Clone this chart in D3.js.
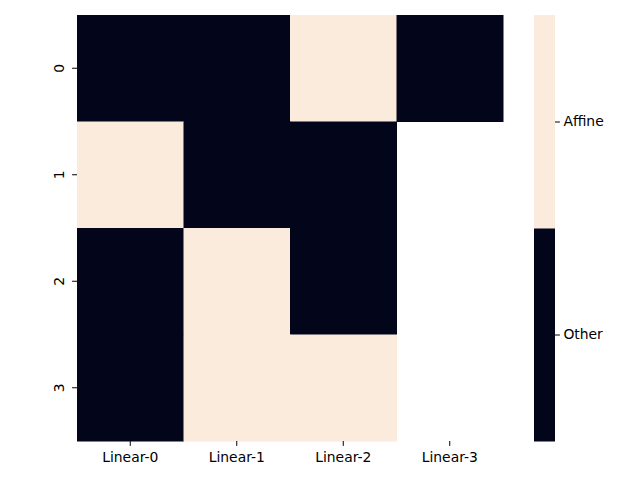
<!DOCTYPE html>
<html>
<head>
<meta charset="utf-8">
<script src="https://cdn.jsdelivr.net/npm/d3@7"></script>
<style>
  body { margin: 0; background: #fff; }
  text { font-family: "DejaVu Sans", sans-serif; font-size: 13.9px; fill: #000; }
</style>
</head>
<body>
<svg width="640" height="480"></svg>
<script>
// columns / rows of the heatmap
var columns = ["Linear-0", "Linear-1", "Linear-2", "Linear-3"];
var rows = ["0", "1", "2", "3"];
// 1 = Affine, 0 = Other, null = missing
var row0 = [0, 0, 1, 0];
var row1 = [1, 0, 0, null];
var row2 = [0, 1, 0, null];
var row3 = [0, 1, 1, null];
var categories = ["Other", "Affine"];
var colorbarTicks = [0.25, 0.75];

(function () {
  var svg = d3.select("svg");
  var matrix = [row0, row1, row2, row3];

  var left = 77, top = 15, right = 503, bottom = 441;

  var x = d3.scaleBand().domain(columns).range([left, right]).padding(0);
  var y = d3.scaleBand().domain(rows).range([top, bottom]).padding(0);
  var color = d3.scaleOrdinal().domain([0, 1]).range(["#03051a", "#faebdd"]);

  var cells = [];
  matrix.forEach(function (r, i) {
    r.forEach(function (v, j) {
      if (v !== null) cells.push({ row: rows[i], col: columns[j], v: v });
    });
  });

  svg.append("g").selectAll("rect")
    .data(cells)
    .enter().append("rect")
    .attr("x", function (d) { return x(d.col); })
    .attr("y", function (d) { return y(d.row); })
    .attr("width", x.bandwidth() + 0.5)
    .attr("height", y.bandwidth() + 0.5)
    .attr("fill", function (d) { return color(d.v); });

  var xAxis = svg.append("g")
    .attr("transform", "translate(0," + bottom + ")")
    .call(d3.axisBottom(x).tickSize(4.9).tickPadding(4.5));
  xAxis.select(".domain").remove();
  xAxis.selectAll("text").style("font-size", "13.9px").attr("dy", "0.85em");

  var yAxis = svg.append("g")
    .attr("transform", "translate(" + left + ",0)")
    .call(d3.axisLeft(y).tickSize(4.9).tickPadding(4.5));
  yAxis.select(".domain").remove();
  yAxis.selectAll("text")
    .style("font-size", "13.9px")
    .attr("text-anchor", "middle")
    .attr("x", 0).attr("y", 0).attr("dy", 0)
    .attr("transform", "translate(-18,0) rotate(-90) translate(0,5)");

  // colorbar
  var cbLeft = 534, cbRight = 555;
  var cb = d3.scaleLinear().domain([0, 1]).range([bottom, top]);
  svg.append("g").selectAll("rect")
    .data(categories)
    .enter().append("rect")
    .attr("x", cbLeft)
    .attr("y", function (d, i) { return cb((i + 1) / 2); })
    .attr("width", cbRight - cbLeft)
    .attr("height", cb(0) - cb(0.5) + 0.5)
    .attr("fill", function (d, i) { return color(i); });

  var cbAxis = svg.append("g")
    .attr("transform", "translate(" + cbRight + ",0)")
    .call(d3.axisRight(cb).tickValues(colorbarTicks)
      .tickFormat(function (d, i) { return categories[i]; })
      .tickSize(4.9).tickPadding(3.5));
  cbAxis.select(".domain").remove();
  cbAxis.selectAll("text").style("font-size", "13.9px");
})();
</script>
</body>
</html>
